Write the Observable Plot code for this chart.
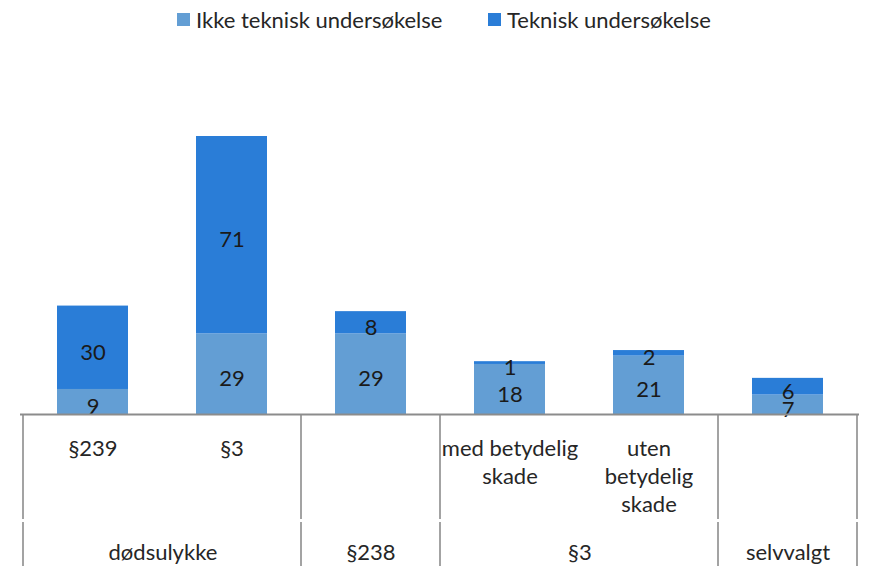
<!DOCTYPE html>
<html>
<head>
<meta charset="utf-8">
<script src="https://cdn.jsdelivr.net/npm/d3@7"></script>
<script src="https://cdn.jsdelivr.net/npm/@observablehq/plot@0.6"></script>
<style>
  body { margin: 0; background: #ffffff; font-family: Lato, "Open Sans", sans-serif; }
  #legend { position: relative; height: 44px; font-size: 22px; color: #262626; }
  .item { position: absolute; top: 6px; display: flex; align-items: center; white-space: nowrap; }
  .sw { display: inline-block; width: 13px; height: 13px; margin-right: 6px; }
</style>
</head>
<body>
<div id="legend"></div>
<div id="chart"></div>
<script>
// ---- data ----
const barKeys = ["dødsulykke §239", "dødsulykke §3", "§238", "§3 med betydelig skade", "§3 uten betydelig skade", "selvvalgt"];
const subLabels = ["§239", "§3", "", "med betydelig\nskade", "uten\nbetydelig\nskade", ""];
const groupOfBar = ["dødsulykke", "dødsulykke", "§238", "§3", "§3", "selvvalgt"];
const groupNames = ["dødsulykke", "§238", "§3", "selvvalgt"];
const ikkeTeknisk = [9, 29, 29, 18, 21, 7];
const teknisk = [30, 71, 8, 1, 2, 6];
const seriesNames = ["Ikke teknisk undersøkelse", "Teknisk undersøkelse"];
const seriesColors = ["#639ed4", "#2a7dd7"];

// ---- legend ----
const legendX = [177, 488];
const legend = d3.select("#legend");
seriesNames.forEach((s, i) => {
  const it = legend.append("div").attr("class", "item").style("left", legendX[i] + "px");
  it.append("span").attr("class", "sw").style("background", seriesColors[i]);
  it.append("span").text(s);
});

// ---- table ----
const rows = barKeys.flatMap((k, i) => [
  {key: k, series: seriesNames[0], value: ikkeTeknisk[i]},
  {key: k, series: seriesNames[1], value: teknisk[i]}
]);

const W = 872, H = 531, mL = 20, mR = 13, mT = 92, mB = 161;
const padInner = 0.49;
const step = (W - mL - mR) / barKeys.length;
const font = "Lato, 'Open Sans', sans-serif";
const lineColor = "#8c8c8c";

const groupMarks = groupNames.map(g => {
  const idx = groupOfBar.map((d, i) => d === g ? i : -1).filter(i => i >= 0);
  return Plot.text([g], {
    x: () => barKeys[idx[0]], text: d => d,
    dx: (idx.length - 1) * step / 2,
    frameAnchor: "bottom", lineAnchor: "top", dy: 126, lineHeight: 1.27,
    fill: "#262626", fontSize: 22
  });
});

// boundaries: first bar of each group, plus the right edge
const boundaryKeys = groupNames.map(g => barKeys[groupOfBar.indexOf(g)]);

const tableLines = (index, scales, values, dimensions) => {
  const x = scales.x;
  const bw = x.bandwidth ? x.bandwidth() : step * (1 - padInner);
  const st = x.step ? x.step() : step;
  const base = dimensions.height - dimensions.marginBottom;
  const xs = boundaryKeys.map(k => x(k) + bw / 2 - st / 2);
  xs.push(x(barKeys[barKeys.length - 1]) + bw / 2 + st / 2);
  const g = d3.create("svg:g").attr("stroke", lineColor).attr("stroke-width", 1.6);
  for (const xx of xs) {
    g.append("line").attr("x1", xx).attr("x2", xx).attr("y1", base).attr("y2", base + 105);
    g.append("line").attr("x1", xx).attr("x2", xx).attr("y1", base + 108).attr("y2", base + 152);
  }
  return g.node();
};

const plot = Plot.plot({
  width: W, height: H,
  marginLeft: mL, marginRight: mR, marginTop: mT, marginBottom: mB,
  x: {domain: barKeys, paddingInner: padInner, paddingOuter: padInner / 2, axis: null},
  y: {domain: [0, 100], axis: null},
  color: {domain: seriesNames, range: seriesColors},
  style: {fontFamily: font, background: "#ffffff", overflow: "visible"},
  marks: [
    Plot.barY(rows, {x: "key", y: "value", fill: "series"}),
    Plot.text(rows, Plot.stackY({x: "key", y: "value", z: "series", text: "value", dy: 5, fill: "#1a1a1a", fontSize: 22})),
    tableLines,
    Plot.ruleY([0], {stroke: lineColor, strokeWidth: 2}),
    Plot.text(barKeys, {
      x: d => d, text: (d, i) => subLabels[i],
      frameAnchor: "bottom", lineAnchor: "top", dy: 22, lineHeight: 1.27,
      fill: "#262626", fontSize: 22
    }),
    ...groupMarks
  ]
});
document.getElementById("chart").appendChild(plot);
</script>
</body>
</html>
